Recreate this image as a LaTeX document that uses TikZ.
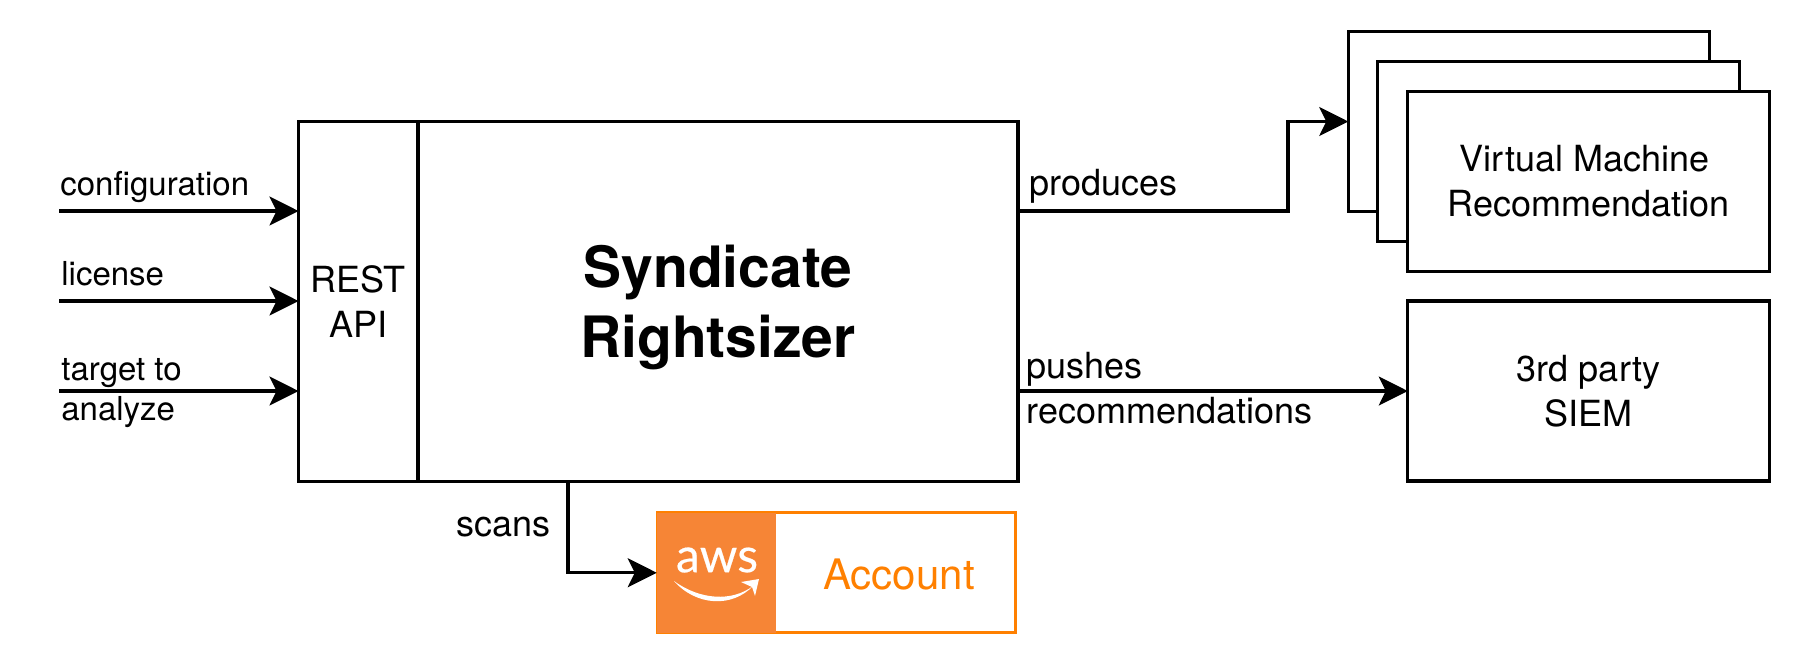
\documentclass[tikz,border=0pt]{standalone}
\usepackage{fontspec}
\setmainfont{TeX Gyre Heros}
\newfontfamily\awsfont[FakeBold=0.4]{Lato}
\usetikzlibrary{arrows.meta}
\definecolor{awsline}{HTML}{FF8000}
\definecolor{awsfill}{HTML}{F68536}
\tikzstyle{box} = [rectangle, draw=black, fill=white, line width=1.55pt, outer sep=0pt, minimum width=180.75pt, minimum height=90pt, align=center, inner sep=0pt]
\tikzstyle{label} = [anchor=base west, inner sep=0pt, align=left]
\tikzstyle{smalltext} = [font=\fontsize{16.5}{20}\selectfont]
\tikzstyle{normaltext} = [font=\fontsize{18}{22.5}\selectfont]
\tikzstyle{arrow} = [line width=1.55pt,-{Stealth[length=14.5pt,width=14.5pt,inset=3.5pt]}]

\begin{document}
\begin{tikzpicture}[x=0.5pt,y=-0.5pt,normaltext]
\useasboundingbox (0,0) rectangle (1800,666);

\node (restapi)[box, minimum width=59.75pt, minimum height=180pt] at (358.25,301.25){REST\\API};
\node (rightsizer)[box, minimum width=300pt, minimum height=180pt] at (718,301.25){};
\node (rightsizertext)[align=center, inner sep=0pt, font=\fontsize{28.5}{35}\selectfont\bfseries] at (718,307){Syndicate\\Rightsizer};

% inputs
\coordinate (configin) at (59,211);
\coordinate (licensein) at (59,301);
\coordinate (targetin) at (59,391);
\draw [arrow](configin) -- (configin -| restapi.west);
\draw [arrow](licensein) -- (licensein -| restapi.west);
\draw [arrow](targetin) -- (targetin -| restapi.west);
\node (configlabel)[label, smalltext] at (60,195){configuration};
\node (licenselabel)[label, smalltext] at (61,285){license};
\node (targetlabel)[label, smalltext] at (61,380){target to};
\node (analyzelabel)[label, smalltext] at (61,420){analyze};

% recommendations
\node (vmback)[box] at (1529,121.5){};
\node (vmmiddle)[box] at (1558.5,151.25){};
\node (vmfront)[box] at (1588.5,181.25){Virtual Machine\hspace*{4pt}\\Recommendation};
\coordinate (producesout) at (1018,211);
\coordinate (producesbend) at (1288,211);
\draw [arrow](producesout) -- (producesbend) |- (vmback.west);
\node (produceslabel)[label] at (1029,195){produces};

\node (siem)[box] at (1588.5,391){3rd party\\SIEM};
\draw [arrow](rightsizer.east |- siem) -- (siem);
\node (pusheslabel)[label] at (1026,378){pushes};
\node (recommendationslabel)[label] at (1026,423){recommendations};

% account
\node (account)[box, draw=awsline, minimum width=179pt, minimum height=60pt] at (836.5,572.75){};
\node (awslogo)[rectangle, fill=awsfill, outer sep=0pt, minimum width=59.75pt, minimum height=60pt] at (716.5,572.75){};
\node (awstext)[inner sep=0pt, text=white, font=\fontsize{24}{24}\selectfont\awsfont] at (717,560){aws};
\fill [white] (674,581) .. controls (700,600) and (732,602) .. (753,586) .. controls (732,608) and (696,606) .. (674,581);
\fill [white] (741,582) -- (759,579) -- (755,596) -- (752,587) -- cycle;
\node (accounttext)[inner sep=0pt, text=awsline, font=\fontsize{21}{25}\selectfont] at (899,574){Account};

\coordinate (scansout) at (568,481);
\draw [arrow](scansout) |- (awslogo.west);
\node (scanslabel)[label] at (456,536){scans};
\end{tikzpicture}
\end{document}
